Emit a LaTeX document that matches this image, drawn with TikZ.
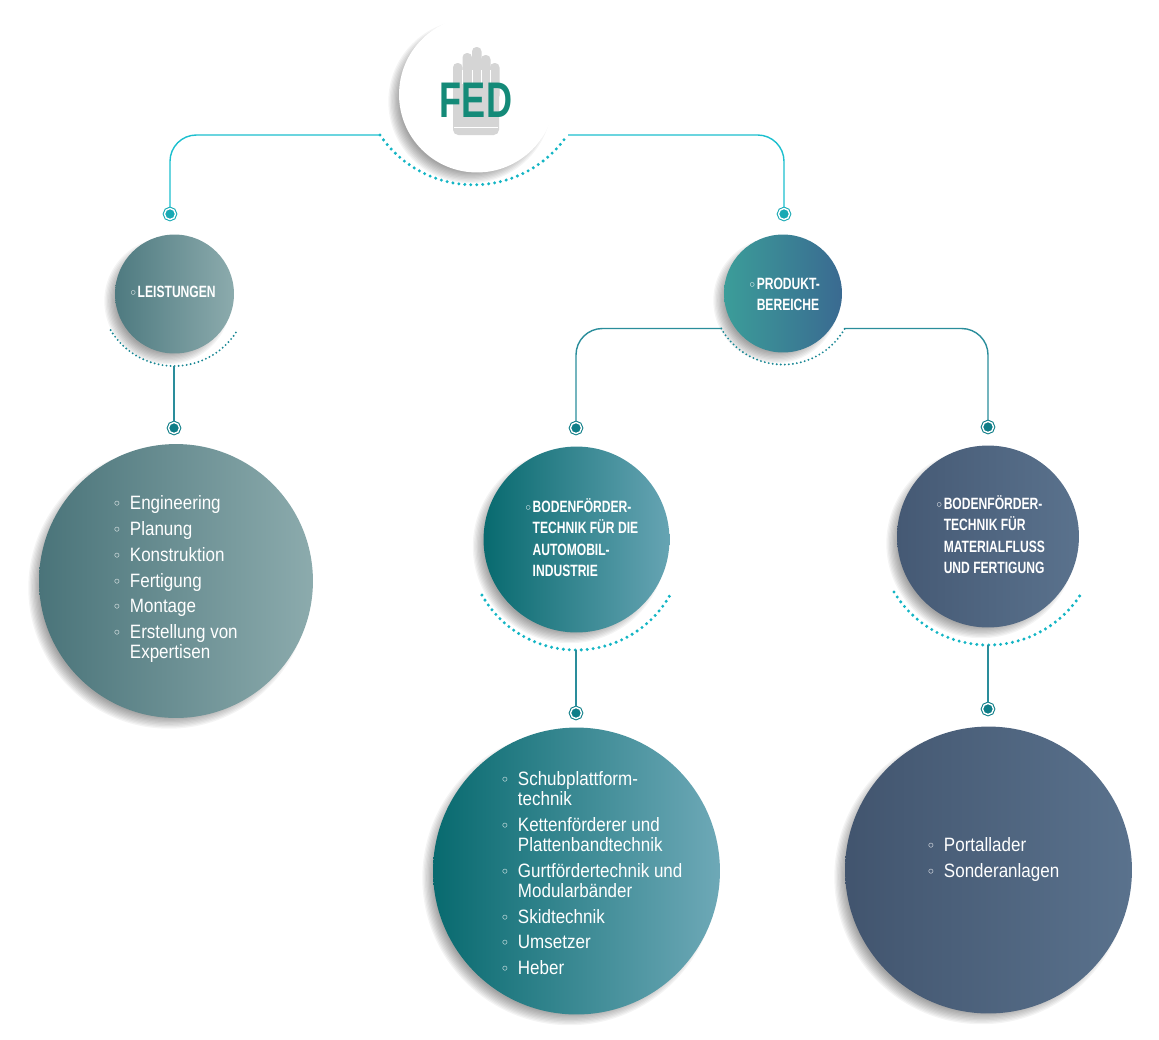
\documentclass[tikz,border=0pt]{standalone}
\usepackage{fontspec}
\setmainfont{Liberation Sans}
\newfontfamily\listfont[FakeStretch=0.88]{Liberation Sans}
\newfontfamily\headfont[FakeStretch=0.74]{Liberation Sans}
\newfontfamily\fedfont[FakeStretch=0.72]{Liberation Sans}
\newfontfamily\symfont{DejaVu Sans}
\definecolor{cyanc}{HTML}{1BBFCE}
\definecolor{tealc}{HTML}{2A8D9B}
\definecolor{dotcyan}{HTML}{18A9B4}
\definecolor{dotteal}{HTML}{0F7E88}
\definecolor{arccyan}{HTML}{14B5C4}
\definecolor{arcteal}{HTML}{1A8794}
\definecolor{fedgreen}{HTML}{148A78}
\definecolor{handgray}{HTML}{D5D5D5}
\definecolor{leistL}{HTML}{4E7A80}
\definecolor{leistR}{HTML}{8CABAD}
\definecolor{prodL}{HTML}{3B9D99}
\definecolor{prodR}{HTML}{3A6A91}
\definecolor{autoL}{HTML}{086A6F}
\definecolor{autoR}{HTML}{66A4B3}
\definecolor{matL}{HTML}{455974}
\definecolor{matR}{HTML}{5A728D}
\newcommand\hbul{{\symfont\fontsize{7}{7}\selectfont ◦}}
\newcommand\lbul{{\symfont\fontsize{9}{9}\selectfont ◦}}
\begin{document}
\begin{tikzpicture}[x=0.02cm,y=-0.02cm,
	bubble/.style={circle,inner sep=0pt,minimum size=#1*0.04cm},
	dotnode/.style={circle,inner sep=0pt,minimum size=0.22cm,fill=#1,draw=#1,
		double=white,line width=0.6pt,double distance=0.8pt},
	cyanline/.style={draw=cyanc,line width=0.8pt,rounded corners=15pt},
	tealline/.style={draw=tealc,line width=0.8pt,rounded corners=15pt},
	dotarc/.style={draw=#1,line width=1.9pt,line cap=round,dash pattern=on 0pt off 3.4pt},
	smallarc/.style={draw=#1,line width=1.2pt,line cap=round,dash pattern=on 0pt off 2.3pt},
	headtext/.style={text=white,anchor=west,inner sep=0pt,
		font=\headfont\bfseries\fontsize{9.3}{12.2}\selectfont},
	listtext/.style={text=white,anchor=west,inner sep=0pt,
		font=\listfont\fontsize{11}{11.3}\selectfont}]
\useasboundingbox (0,0) rectangle (1159,1039);
% soft shadows
\foreach \cx/\cy/\r in {477/94.5/78, 174.5/294/59.5, 783/293.5/59, 176/581/137,
	576.5/539.5/93, 988/536.5/91, 576.5/871/143.5, 988.5/870/143.5}
	\foreach \i in {0,...,9}
		\fill[black,opacity=0.045] (\cx-7,\cy+7) circle[radius=\r-8+\i*1.3];
% circles
\node[bubble=78,fill=white] (fed) at (477,94.5) {};
\node[bubble=59.5,left color=leistL,right color=leistR] (leist) at (174.5,294) {};
\node[bubble=59,left color=prodL,right color=prodR] (prod) at (783,293.5) {};
\node[bubble=137,left color=leistL!95!black,right color=leistR] (eng) at (176,581) {};
\node[bubble=93,left color=autoL,right color=autoR] (auto) at (576.5,539.5) {};
\node[bubble=91,left color=matL,right color=matR] (mat) at (988,536.5) {};
\node[bubble=143.5,left color=autoL,right color=autoR!95!white] (schub) at (576.5,871) {};
\node[bubble=143.5,left color=matL!95!black,right color=matR] (portal) at (988.5,870) {};
% logo
\fill[handgray,rounded corners=3pt] (453,75) rectangle (499,135);
\foreach \fx/\ft in {453/63, 462.5/53, 472/47, 481/55, 490/63}
	\fill[handgray,rounded corners=2.5pt] (\fx,\ft) rectangle (\fx+9.5,100);
\foreach \fx in {462.5,472,481,490}
	\draw[white,line width=0.4pt] (\fx,70) -- (\fx,84);
\draw[white,line width=0.4pt] (454,127) -- (498,127);
\node[text=fedgreen,font=\fedfont\bfseries\fontsize{28.5}{30}\selectfont] (fedtxt) at (476,100) {FED};
% dotted arcs
\coordinate (fa1) at (380,135);
\coordinate (fa2) at (568,135);
\draw[dotarc=arccyan] (fa1) arc[start angle=146,end angle=34,radius=113];
\coordinate (la) at (110.6,330.1);
\coordinate (lb) at (174,366);
\draw[smallarc=arcteal] (la) arc[start angle=149,end angle=31,radius=74];
\coordinate (pa1) at (721.2,328.5);
\coordinate (pa2) at (844.8,328.5);
\draw[smallarc=arcteal] (pa1) arc[start angle=150.5,end angle=29.5,radius=71];
\coordinate (aa) at (481.9,595);
\coordinate (ab) at (576,650);
\draw[dotarc=arccyan] (aa) arc[start angle=150.6,end angle=29.4,radius=108];
\coordinate (ma) at (894,592);
\coordinate (mb) at (988,645);
\draw[dotarc=arccyan] (ma) arc[start angle=148.8,end angle=31.2,radius=110];
% dots
\node[dotnode=dotcyan] (dl) at (170,214) {};
\node[dotnode=dotcyan] (dp) at (784,214) {};
\node[dotnode=dotteal] (dlb) at (174,428) {};
\node[dotnode=dotteal] (da) at (576,428) {};
\node[dotnode=dotteal] (dm) at (988,427) {};
\node[dotnode=dotteal] (dab) at (576,713) {};
\node[dotnode=dotteal] (dmb) at (988,709) {};
% connectors
\draw[cyanline] (fa1) -| (dl);
\draw[cyanline] (fa2) -| (dp);
\draw[tealline] (lb) -- (dlb);
\draw[tealline] (pa1) -| (da);
\draw[tealline] (pa2) -| (dm);
\draw[tealline] (ab) -- (dab);
\draw[tealline] (mb) -- (dmb);
% texts
\node[headtext] (leisttxt) at (129,293) {\begin{tabular}{@{}l@{\hspace{0.3pt}}l@{}}
	\hbul & LEISTUNGEN\end{tabular}};
\node[headtext] (prodtxt) at (748,295.5) {\begin{tabular}{@{}l@{\hspace{0.3pt}}l@{}}
	\hbul & PRODUKT-\\ & BEREICHE\end{tabular}};
\node[headtext] (autotxt) at (524,540) {\begin{tabular}{@{}l@{\hspace{0.3pt}}l@{}}
	\hbul & BODENFÖRDER-\\ & TECHNIK FÜR DIE\\ & AUTOMOBIL-\\ & INDUSTRIE\end{tabular}};
\node[headtext] (mattxt) at (935,537) {\begin{tabular}{@{}l@{\hspace{0.3pt}}l@{}}
	\hbul & BODENFÖRDER-\\ & TECHNIK FÜR\\ & MATERIALFLUSS\\ & UND FERTIGUNG\end{tabular}};
\node[listtext] (engtxt) at (112,580) {\begin{tabular}{@{}l@{\hspace{4.7pt}}l@{}}
	\lbul & Engineering\\[3.4pt]
	\lbul & Planung\\[3.4pt]
	\lbul & Konstruktion\\[3.4pt]
	\lbul & Fertigung\\[3.4pt]
	\lbul & Montage\\[3.4pt]
	\lbul & Erstellung von\\
	& Expertisen\end{tabular}};
\node[listtext] (schubtxt) at (500,876) {\begin{tabular}{@{}l@{\hspace{4.7pt}}l@{}}
	\lbul & Schubplattform-\\
	& technik\\[3.4pt]
	\lbul & Kettenförderer und\\
	& Plattenbandtechnik\\[3.4pt]
	\lbul & Gurtfördertechnik und\\
	& Modularbänder\\[3.4pt]
	\lbul & Skidtechnik\\[3.4pt]
	\lbul & Umsetzer\\[3.4pt]
	\lbul & Heber\end{tabular}};
\node[listtext] (portaltxt) at (926,860) {\begin{tabular}{@{}l@{\hspace{4.7pt}}l@{}}
	\lbul & Portallader\\[3.4pt]
	\lbul & Sonderanlagen\end{tabular}};
\end{tikzpicture}
\end{document}
